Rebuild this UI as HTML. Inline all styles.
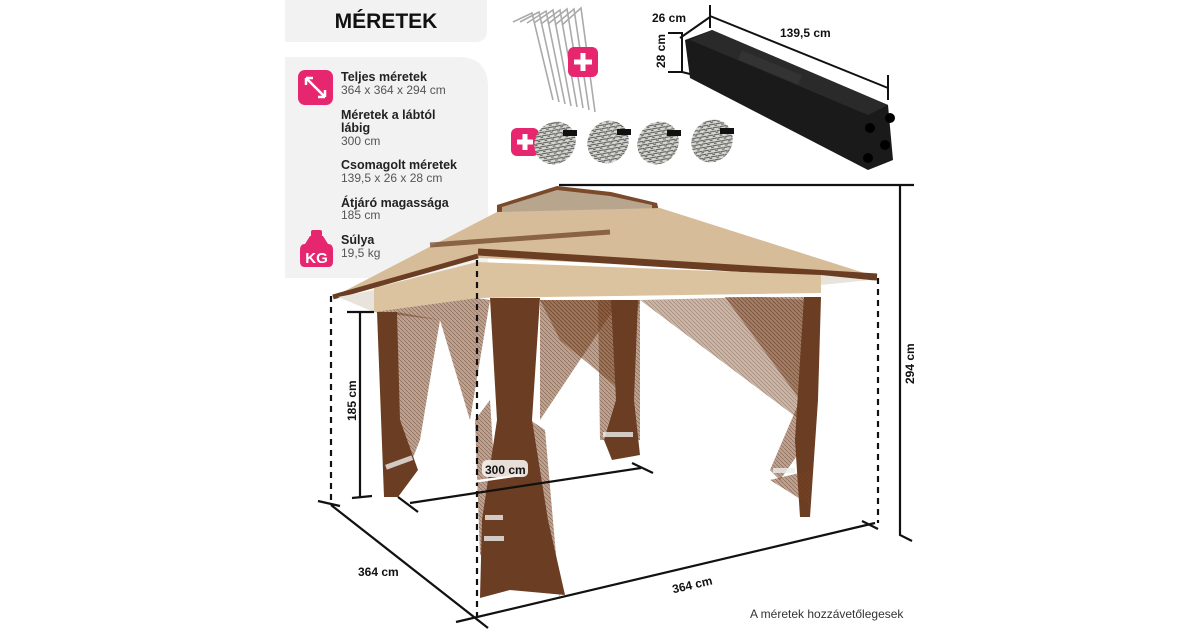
<!DOCTYPE html>
<html><head><meta charset="utf-8"><style>
body{margin:0;width:1200px;height:630px;background:#fff;overflow:hidden;font-family:"Liberation Sans",sans-serif}
svg{position:absolute;left:0;top:0}
</style></head><body>
<svg width="1200" height="630" viewBox="0 0 1200 630">
<defs>
<pattern id="net" width="4" height="4" patternUnits="userSpaceOnUse"><rect width="4" height="4" fill="#7a4526" opacity="0.5"/><path d="M0 0L4 4" stroke="#5e3317" stroke-width="0.6" opacity="0.6"/></pattern>
<pattern id="rope" width="5" height="5" patternUnits="userSpaceOnUse"><rect width="5" height="5" fill="#d8d8d2"/><path d="M0 5L5 0M0 2L2 0" stroke="#555" stroke-width="1"/></pattern>
</defs>
<!-- left panel -->
<path d="M285 0H487V30Q487 42 475 42H285Z" fill="#f2f2f2"/>
<text x="386" y="28" text-anchor="middle" font-size="21" font-weight="bold" fill="#111">MÉRETEK</text>
<path d="M285 57H458Q488 57 488 87V278H285Z" fill="#f2f2f2"/>
<rect x="298" y="70" width="35" height="35" rx="7" fill="#e6266f"/>
<path d="M306 78L325 97M306 78l0 7M306 78l7 0M325 97l-7 0M325 97l0-7" stroke="#fff" stroke-width="2.5" fill="none"/>
<g font-size="12.5" fill="#222">
<text x="341" y="81" font-weight="bold">Teljes méretek</text>
<text x="341" y="94" fill="#555" font-size="12">364 x 364 x 294 cm</text>
<text x="341" y="119" font-weight="bold">Méretek a lábtól</text>
<text x="341" y="132" font-weight="bold">lábig</text>
<text x="341" y="145" fill="#555" font-size="12">300 cm</text>
<text x="341" y="169" font-weight="bold">Csomagolt méretek</text>
<text x="341" y="182" fill="#555" font-size="12">139,5 x 26 x 28 cm</text>
<text x="341" y="207" font-weight="bold">Átjáró magassága</text>
<text x="341" y="219" fill="#555" font-size="12">185 cm</text>
<text x="341" y="244" font-weight="bold">Súlya</text>
<text x="341" y="257" fill="#555" font-size="12">19,5 kg</text>
</g>
<path d="M305 244L310 236H323L328 244Q333 244 333 250V262Q333 267 328 267H305Q300 267 300 262V250Q300 244 305 244Z" fill="#e6266f"/>
<rect x="311" y="230" width="11" height="7" rx="2" fill="#e6266f"/>
<text x="316.5" y="263" text-anchor="middle" font-size="15" font-weight="bold" fill="#fff">KG</text>
<!-- stakes -->
<g stroke="#aaa" stroke-width="1.6" fill="none">
<path d="M513 22L532 13L553 100"/><path d="M520 22L539 12L559 102"/><path d="M527 23L546 11L565 104"/><path d="M534 23L553 10L571 106"/><path d="M541 24L560 10L577 107"/><path d="M548 24L567 9L583 108"/><path d="M555 25L574 9L589 110"/><path d="M562 25L581 8L595 112"/>
</g>
<rect x="568" y="47" width="30" height="30" rx="6" fill="#e6266f"/><path d="M583 53V71M574 62H592" stroke="#fff" stroke-width="5"/>
<rect x="511" y="128" width="28" height="28" rx="6" fill="#e6266f"/><path d="M525 134V150M517 142H533" stroke="#fff" stroke-width="5"/>
<g fill="url(#rope)"><ellipse cx="555" cy="143" rx="20" ry="22" transform="rotate(35 555 143)"/><ellipse cx="608" cy="142" rx="20" ry="22" transform="rotate(35 608 142)"/><ellipse cx="658" cy="143" rx="20" ry="22" transform="rotate(35 658 143)"/><ellipse cx="712" cy="141" rx="20" ry="22" transform="rotate(35 712 141)"/></g>
<g fill="#111"><rect x="563" y="130" width="14" height="6"/><rect x="617" y="129" width="14" height="6"/><rect x="667" y="130" width="14" height="6"/><rect x="720" y="128" width="14" height="6"/></g>
<!-- bag -->
<path d="M685 40L712 30L888 105L893 160L868 170L690 78Z" fill="#1a1a1a"/>
<path d="M712 30L888 105L868 115L690 40Z" fill="#2a2a2a"/>
<path d="M740 55L800 80" stroke="#333" stroke-width="10"/>
<g fill="#000"><circle cx="890" cy="118" r="5"/><circle cx="870" cy="128" r="5"/><circle cx="885" cy="145" r="5"/><circle cx="868" cy="158" r="5"/></g>
<g stroke="#111" stroke-width="2" fill="none">
<path d="M710 5V28M888 75V100M710 16L888 88"/>
<path d="M680 38L710 17"/><path d="M668 33H682V72H668M682 72L690 74"/>
</g>
<g font-size="12" font-weight="bold" fill="#111">
<text x="652" y="22">26 cm</text><text x="780" y="37">139,5 cm</text>
<text transform="translate(665 68) rotate(-90)">28 cm</text>
</g>
<!-- gazebo -->
<path d="M497 205L557 186L611 192L657 203L660 215L497 216Z" fill="#7a4a2a"/>
<path d="M502 207L557 190L610 196L652 205L652 211L502 212Z" fill="#b7a58e"/>
<path d="M497 212L660 208L877 277L818 272L478 258L374 288L333 297Z" fill="#d6bc98"/>
<path d="M478 252L877 277" stroke="#6b3d22" stroke-width="7"/>
<path d="M333 297L478 256" stroke="#6b3d22" stroke-width="5"/>
<path d="M430 245L610 232" stroke="#6b3d22" stroke-width="5" opacity="0.7"/>
<path d="M338 297L374 290L374 312Z" fill="#e8e4dc"/>
<path d="M821 275L870 280L821 285Z" fill="#e8e4dc"/>
<path d="M374 288L477 262L821 275V293L477 298L374 312Z" fill="#dcc39f"/>
<!-- nets -->
<path d="M374 312L477 298L490 300L470 420L440 320Z" fill="url(#net)"/>
<path d="M397 312L440 320L420 440L398 495Z" fill="url(#net)"/>
<path d="M540 300L640 300L620 390L560 340Z" fill="url(#net)"/>
<path d="M540 300L620 300L540 420Z" fill="url(#net)"/>
<path d="M640 300L760 297L805 300L800 420Z" fill="url(#net)" opacity="0.8"/>
<path d="M725 297L804 297L808 440L780 480L770 470L800 400Z" fill="url(#net)"/>
<path d="M598 300L640 300L640 440L600 440Z" fill="url(#net)"/>
<path d="M475 420L490 400L500 560L480 555Z" fill="url(#net)"/>
<path d="M530 420L545 520L560 600L545 430Z" fill="url(#net)"/>
<!-- posts -->
<path d="M377 312H397L400 420L418 470L398 497L384 497Z" fill="#6b3d22"/>
<path d="M490 298H540L532 420L548 520L565 595L510 590L480 598L482 520L497 420Z" fill="#6b3d22"/>
<path d="M611 300H638L634 400L640 455L612 460L604 440L616 400Z" fill="#6b3d22"/>
<path d="M804 297H821L818 400L810 517H800L795 440Z" fill="#6b3d22"/>
<path d="M770 480L812 470L810 505Z" fill="url(#net)"/>
<g fill="#eee" opacity="0.8"><rect x="385" y="460" width="28" height="5" transform="rotate(-20 399 462)"/><rect x="603" y="432" width="30" height="5"/><rect x="773" y="468" width="22" height="5"/><rect x="485" y="515" width="18" height="5"/><rect x="484" y="536" width="20" height="5"/></g>
<!-- dimension lines -->
<g stroke="#111" stroke-width="2.2" fill="none">
<path d="M559 185H914"/>
<path d="M900 185V535L912 541"/>
<path d="M347 312H374M360 312V498M352 498L372 496"/>
<path d="M318 501L340 506M331 505L488 628M456 622L875 523M862 521L878 529"/>
<path d="M398 497L418 512M410 503L641 468M632 463L653 473"/>
</g>
<g stroke="#111" stroke-width="2.2" stroke-dasharray="6 5"><path d="M477 260V617"/><path d="M331 296V505"/><path d="M878 278V523"/></g>
<path d="M437 487L520 475" stroke="#fff" stroke-width="2.5"/>
<rect x="482" y="460" width="46" height="17" rx="5" fill="#f5f0ec" opacity="0.9"/>
<g font-size="12" font-weight="bold" fill="#111">
<text x="485" y="474">300 cm</text>
<text x="358" y="576">364 cm</text>
<text x="672" y="589" transform="rotate(-13 692 585)">364 cm</text>
<text transform="translate(356 421) rotate(-90)">185 cm</text>
<text transform="translate(914 384) rotate(-90)">294 cm</text>
</g>
<text x="750" y="618" font-size="12" fill="#333">A méretek hozzávetőlegesek</text>
</svg>
</body></html>
